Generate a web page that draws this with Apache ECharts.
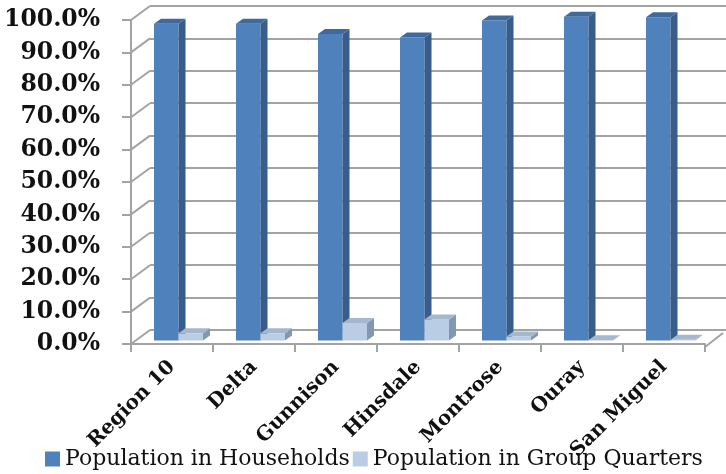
<!DOCTYPE html>
<html>
<head>
<meta charset="utf-8">
<style>
  html, body { margin: 0; padding: 0; background: #ffffff; }
  #chart { width: 726px; height: 474px; }
</style>
<script src="https://cdn.jsdelivr.net/npm/echarts@6/dist/echarts.min.js"></script>
</head>
<body>
<div id="chart"></div>
<script>
// Share of population by living arrangement, Region 10 counties
const categories = ['Region 10', 'Delta', 'Gunnison', 'Hinsdale', 'Montrose', 'Ouray', 'San Miguel'];
const households = [97.8, 97.8, 94.6, 93.5, 98.8, 99.9, 99.8];
const groupQuarters = [2.2, 2.2, 5.4, 6.5, 1.2, 0.1, 0.2];
const seriesNames = ['Population in Households', 'Population in Group Quarters'];
const yTicks = [0, 10, 20, 30, 40, 50, 60, 70, 80, 90, 100];

// 3-D look: depth of the box (front axis -> back wall) and of each column
const WALL_DX = 19, WALL_DY = -14;
const COL_DX = 7, COL_DY = -5;
const PLANE_DX = 0, PLANE_DY = -3.5;
const COL_W = 24.5;

const gridColor = '#a3a3a3';
const labelFont = 'DejaVu Serif';

function columnRenderer(leftFromCenter, front, side, top) {
  return function (params, api) {
    const i = api.value(0);
    const v = api.value(1);
    const base = api.coord([i, 0]);
    const peak = api.coord([i, v]);
    const x0 = base[0] + leftFromCenter + PLANE_DX;
    const x1 = x0 + COL_W;
    const yb = base[1] + PLANE_DY;
    const yt = peak[1] + PLANE_DY;
    return {
      type: 'group',
      children: [
        { type: 'rect', shape: { x: x0, y: yt, width: COL_W, height: yb - yt }, style: { fill: front } },
        { type: 'polygon', shape: { points: [[x1, yb], [x1 + COL_DX, yb + COL_DY], [x1 + COL_DX, yt + COL_DY], [x1, yt]] }, style: { fill: side } },
        { type: 'polygon', shape: { points: [[x0, yt], [x0 + COL_DX, yt + COL_DY], [x1 + COL_DX, yt + COL_DY], [x1, yt]] }, style: { fill: top } }
      ]
    };
  };
}

// side-wall connectors from the front value axis to the back wall, plus the floor's right edge
function wallRenderer(params, api) {
  const v = api.value(1);
  const cs = params.coordSys;
  const y = api.coord([0, v])[1];
  const children = [
    { type: 'line', shape: { x1: cs.x, y1: y, x2: cs.x + WALL_DX, y2: y + WALL_DY }, style: { stroke: gridColor, lineWidth: 2 } }
  ];
  if (v === 0) {
    const yf = y + 3;
    const xr = cs.x + cs.width;
    children.push({ type: 'line', shape: { x1: xr, y1: yf, x2: xr + WALL_DX - 1, y2: yf + WALL_DY }, style: { stroke: gridColor, lineWidth: 2 } });
  }
  return { type: 'group', children: children };
}

const chart = echarts.init(document.getElementById('chart'));
chart.setOption({
  animation: false,
  backgroundColor: '#ffffff',
  legend: {
    bottom: -1,
    left: 40,
    itemWidth: 15,
    itemHeight: 15,
    itemGap: 3,
    icon: 'rect',
    textStyle: { fontFamily: labelFont, fontSize: 22, color: '#111111' },
    data: seriesNames
  },
  grid: [
    { left: 131, right: 21, top: 20, height: 324 },
    { left: 131 + WALL_DX, right: 0, top: 20 + WALL_DY, height: 324 }
  ],
  xAxis: [
    {
      type: 'category',
      gridIndex: 0,
      data: categories,
      offset: 3,
      axisLine: { lineStyle: { color: gridColor, width: 2 } },
      axisTick: { show: true, alignWithLabel: false, length: 8, lineStyle: { color: gridColor, width: 2 } },
      axisLabel: {
        rotate: 45,
        margin: 17,
        fontFamily: labelFont,
        fontWeight: 'bold',
        fontSize: 20,
        color: '#111111'
      }
    },
    { type: 'value', gridIndex: 1, show: false, min: 0, max: 1 }
  ],
  yAxis: [
    {
      type: 'value',
      gridIndex: 0,
      min: 0,
      max: 100,
      interval: 10,
      axisLine: { show: true, lineStyle: { color: gridColor, width: 2 } },
      axisTick: { show: true, length: 9, lineStyle: { color: gridColor, width: 2 } },
      splitLine: { show: false },
      axisLabel: {
        margin: 31,
        fontFamily: labelFont,
        fontWeight: 'bold',
        fontSize: 23.5,
        color: '#111111',
        formatter: function (v) { return v.toFixed(1) + '%'; }
      }
    },
    {
      type: 'value',
      gridIndex: 1,
      min: 0,
      max: 100,
      interval: 10,
      axisLine: { show: false },
      axisTick: { show: false },
      axisLabel: { show: false },
      splitLine: { show: true, lineStyle: { color: gridColor, width: 2 } }
    }
  ],
  series: [
    {
      type: 'custom',
      name: 'walls',
      xAxisIndex: 0,
      yAxisIndex: 0,
      silent: true,
      renderItem: wallRenderer,
      data: yTicks.map(function (t) { return [0, t]; })
    },
    {
      type: 'custom',
      name: seriesNames[0],
      xAxisIndex: 0,
      yAxisIndex: 0,
      itemStyle: { color: '#4f81bd' },
      renderItem: columnRenderer(-18, '#4f81bd', '#385d8a', '#41699c'),
      data: households.map(function (v, i) { return [i, v]; })
    },
    {
      type: 'custom',
      name: seriesNames[1],
      xAxisIndex: 0,
      yAxisIndex: 0,
      itemStyle: { color: '#b9cde5' },
      renderItem: columnRenderer(-18 + COL_W, '#b9cde5', '#8497b0', '#a5b7cd'),
      data: groupQuarters.map(function (v, i) { return [i, v]; })
    }
  ]
});
</script>
</body>
</html>
